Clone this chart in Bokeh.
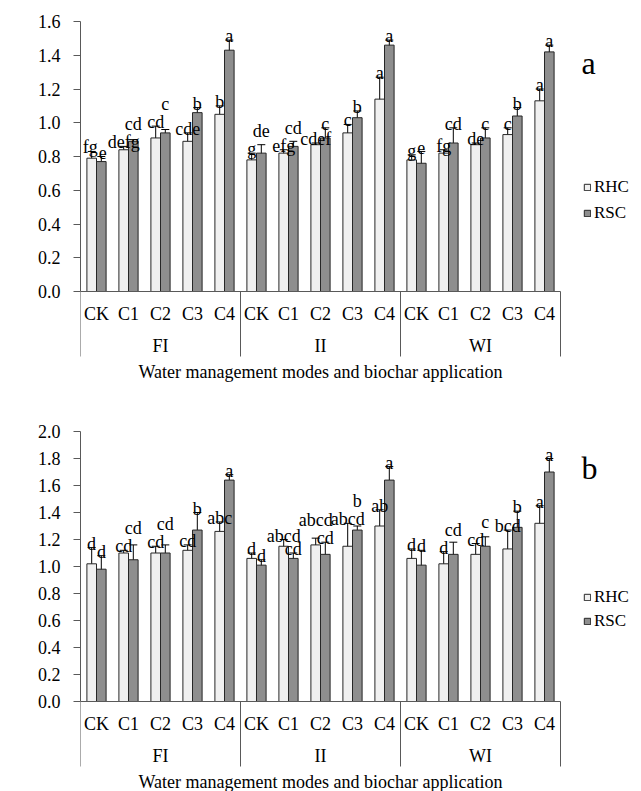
import math
from bokeh.plotting import figure
from bokeh.layouts import column
from bokeh.models import (ColumnDataSource, Range1d, LinearAxis, FixedTicker,
                          NumeralTickFormatter, Label, Legend, LegendItem, Whisker, TeeHead)
from bokeh.core.properties import value
from bokeh.embed import file_html
from bokeh.resources import INLINE

# ------------------------------------------------------------------ data
treatments = ["CK", "C1", "C2", "C3", "C4"]
water_modes = ["FI", "II", "WI"]
series = ["RHC", "RSC"]
x_title = "Water management modes and biochar application"
y_title = "TN (g kg\u207b\u00b9)"

# panel a
a_ticks = [0.0, 0.2, 0.4, 0.6, 0.8, 1.0, 1.2, 1.4, 1.6]
a_rhc = [0.79, 0.84, 0.91, 0.89, 1.05, 0.78, 0.82, 0.87, 0.94, 1.14, 0.78, 0.82, 0.87, 0.93, 1.13]
a_rhc_err = [0.04, 0.02, 0.07, 0.05, 0.05, 0.04, 0.02, 0.01, 0.05, 0.13, 0.03, 0.02, 0.01, 0.04, 0.07]
a_rsc = [0.77, 0.89, 0.94, 1.06, 1.43, 0.82, 0.86, 0.91, 1.03, 1.46, 0.76, 0.88, 0.91, 1.04, 1.42]
a_rsc_err = [0.03, 0.01, 0.02, 0.03, 0.06, 0.05, 0.03, 0.06, 0.04, 0.03, 0.07, 0.09, 0.06, 0.05, 0.04]
a_rhc_lab = ["fg", "defg", "cd", "cde", "b", "g", "efg", "cdef", "c", "a", "g", "fg", "de", "c", "a"]
a_rsc_lab = ["e", "cd", "c", "b", "a", "de", "cd", "c", "b", "a", "e", "cd", "c", "b", "a"]

# panel b
b_ticks = [0.0, 0.2, 0.4, 0.6, 0.8, 1.0, 1.2, 1.4, 1.6, 1.8, 2.0]
b_rhc = [1.02, 1.10, 1.10, 1.12, 1.26, 1.06, 1.15, 1.16, 1.15, 1.30, 1.06, 1.02, 1.09, 1.13, 1.32]
b_rhc_err = [0.12, 0.02, 0.05, 0.04, 0.07, 0.04, 0.05, 0.05, 0.17, 0.12, 0.07, 0.09, 0.08, 0.14, 0.13]
b_rsc = [0.98, 1.05, 1.10, 1.27, 1.64, 1.01, 1.06, 1.09, 1.27, 1.64, 1.01, 1.09, 1.15, 1.29, 1.70]
b_rsc_err = [0.10, 0.11, 0.06, 0.13, 0.04, 0.04, 0.04, 0.09, 0.03, 0.10, 0.11, 0.09, 0.07, 0.12, 0.10]
b_rhc_lab = ["d", "cd", "cd", "cd", "abc", "d", "abcd", "abcd", "abcd", "ab", "d", "d", "cd", "bcd", "a"]
b_rsc_lab = ["d", "cd", "cd", "b", "a", "d", "cd", "cd", "b", "a", "d", "cd", "c", "b", "a"]

# ------------------------------------------------------------------ style
FONT = "Liberation Serif"
RHC_FILL = "#f0f0f0"
RSC_FILL = "#8e8e8e"
EDGE = "#262626"
AXIS = "#595959"
W = 641
LEFT = 80          # left border (y axis area)
CAT_PX = 32        # px per category
AXIS_PX = 270      # px length of value axis
BAR_W = 0.3        # bar width in category units
LAB_FS = 18
CHAR_W = {"a": .444, "b": .5, "c": .444, "d": .5, "e": .444, "f": .333, "g": .5}


def text_w(s):
    return sum(CHAR_W.get(ch, .5) for ch in s) * LAB_FS


def place_labels(v1, e1, l1, v2, e2, l2, ppu):
    """Return x/y pixel offsets for letter labels so that pairs don't collide."""
    bar_dx = BAR_W / 2 * CAT_PX
    pad, text_h, step = 4, 13, 18
    xo1, yo1, xo2, yo2 = [], [], [], []
    for a, ea, la, b, eb, lb in zip(v1, e1, l1, v2, e2, l2):
        t1, t2 = (a + ea) * ppu, (b + eb) * ppu
        b1, b2 = t1 + pad, t2 + pad
        s1 = s2 = 0.0
        ov = text_w(la) / 2 + text_w(lb) / 2 + 1 - 2 * bar_dx
        if ov > 0 and abs(b1 - b2) < text_h:
            if ov <= 3.5:
                s1, s2 = -ov / 2, ov / 2
            elif b2 >= b1 - 4:
                b2 = b1 + step
            else:
                b1 = b2 + step
        xo1.append(s1); xo2.append(s2)
        yo1.append(-(b1 - t1)); yo2.append(-(b2 - t2))
    return xo1, yo1, xo2, yo2


def panel(letter, ticks, rhc, rhc_err, rsc, rsc_err, rhc_lab, rsc_lab,
          fig_h, top_px, letter_mid_px, legend_top_px, legend_gap):
    ymax = ticks[-1]
    ppu = AXIS_PX / ymax
    zero_px = top_px + AXIS_PX
    y_end = ymax + top_px / ppu
    y_start = -(fig_h - zero_px) / ppu
    n_cat = len(water_modes) * len(treatments)
    x_end = (W - LEFT) / CAT_PX

    p = figure(width=W, height=fig_h, x_range=Range1d(0, x_end), y_range=Range1d(y_start, y_end),
               output_backend="svg", toolbar_location=None,
               x_axis_location=None, y_axis_location=None,
               min_border_left=LEFT, min_border_right=0, min_border_top=0, min_border_bottom=0,
               outline_line_color=None, background_fill_color="white", border_fill_color="white")
    p.grid.visible = False

    xc = [i + 0.5 for i in range(n_cat)]
    xo1, yo1, xo2, yo2 = place_labels(rhc, rhc_err, rhc_lab, rsc, rsc_err, rsc_lab, ppu)
    s1 = ColumnDataSource(dict(x=[c - BAR_W / 2 for c in xc], top=rhc,
                               upper=[v + e for v, e in zip(rhc, rhc_err)],
                               lower=[v - e for v, e in zip(rhc, rhc_err)],
                               lab=rhc_lab, xo=xo1, yo=yo1))
    s2 = ColumnDataSource(dict(x=[c + BAR_W / 2 for c in xc], top=rsc,
                               upper=[v + e for v, e in zip(rsc, rsc_err)],
                               lower=[v - e for v, e in zip(rsc, rsc_err)],
                               lab=rsc_lab, xo=xo2, yo=yo2))

    r1 = p.vbar(x="x", top="top", bottom=0, width=BAR_W, source=s1,
                fill_color=RHC_FILL, line_color=EDGE, line_width=1)
    r2 = p.vbar(x="x", top="top", bottom=0, width=BAR_W, source=s2,
                fill_color=RSC_FILL, line_color=EDGE, line_width=1)

    for s in (s1, s2):
        p.add_layout(Whisker(source=s, base="x", upper="upper", lower="lower", dimension="height",
                             line_color="black", line_width=1,
                             upper_head=TeeHead(size=8, line_color="black", line_width=1),
                             lower_head=TeeHead(size=8, line_color="black", line_width=1)))
        p.text(x="x", y="upper", text="lab", x_offset="xo", y_offset="yo", source=s,
               text_align="center", text_baseline="alphabetic",
               text_font=value(FONT), text_font_size=f"{LAB_FS}px", text_color="black")

    # category axis (drawn by hand with two label rows)
    p.segment(x0=0, y0=0, x1=n_cat, y1=0, line_color=AXIS, line_width=1)
    seps = [g * len(treatments) for g in range(len(water_modes) + 1)]
    p.segment(x0=seps, y0=0, x1=seps, y1=-65 / ppu, line_color=AXIS, line_width=1)
    p.text(x=xc, y=[0] * n_cat, text=[t for _ in water_modes for t in treatments], y_offset=22,
           text_align="center", text_baseline="middle",
           text_font=value(FONT), text_font_size="18px", text_color="black")
    p.text(x=[g * len(treatments) + len(treatments) / 2 for g in range(len(water_modes))],
           y=[0] * len(water_modes), text=water_modes, y_offset=54,
           text_align="center", text_baseline="middle",
           text_font=value(FONT), text_font_size="18px", text_color="black")
    p.text(x=[n_cat / 2], y=[0], text=[x_title], y_offset=80,
           text_align="center", text_baseline="middle",
           text_font=value(FONT), text_font_size="18px", text_color="black")

    yax = LinearAxis(bounds=(0, ymax), ticker=FixedTicker(ticks=ticks),
                     formatter=NumeralTickFormatter(format="0.0"))
    yax.axis_line_color = AXIS
    yax.major_tick_line_color = AXIS
    yax.major_tick_out = 7
    yax.major_tick_in = 0
    yax.minor_tick_line_color = None
    yax.major_label_standoff = 13
    yax.major_label_text_font = FONT
    yax.major_label_text_font_size = "18px"
    yax.major_label_text_color = "black"
    p.add_layout(yax, "left")

    p.add_layout(Label(x=20 - LEFT, x_units="screen", y=ymax / 2, text=y_title, angle=math.pi / 2,
                       text_align="center", text_baseline="middle",
                       text_font=FONT, text_font_size="19px", text_color="black"))
    p.add_layout(Label(x=581 - LEFT, x_units="screen", y=fig_h - letter_mid_px, y_units="screen",
                       text=letter, text_align="left", text_baseline="middle",
                       text_font=FONT, text_font_size="32px", text_color="black"))

    row_h = 20
    leg_h = 2 * row_h + legend_gap
    leg = Legend(items=[LegendItem(label=series[0], renderers=[r1]),
                        LegendItem(label=series[1], renderers=[r2])],
                 location=(583 - LEFT, fig_h - legend_top_px - leg_h),
                 glyph_width=8, glyph_height=8, label_height=row_h, label_standoff=3,
                 spacing=legend_gap, padding=0, margin=0,
                 border_line_color=None, background_fill_alpha=0,
                 label_text_font=FONT, label_text_font_size="17px", label_text_color="black")
    p.add_layout(leg)
    return p


pa = panel("a", a_ticks, a_rhc, a_rhc_err, a_rsc, a_rsc_err, a_rhc_lab, a_rsc_lab,
           fig_h=395, top_px=21, letter_mid_px=62, legend_top_px=177, legend_gap=6)
pb = panel("b", b_ticks, b_rhc, b_rhc_err, b_rsc, b_rsc_err, b_rhc_lab, b_rsc_lab,
           fig_h=396, top_px=36, letter_mid_px=72, legend_top_px=192, legend_gap=4)

p = column(pa, pb, spacing=0)
open("out.html", "w").write(file_html(p, INLINE))
